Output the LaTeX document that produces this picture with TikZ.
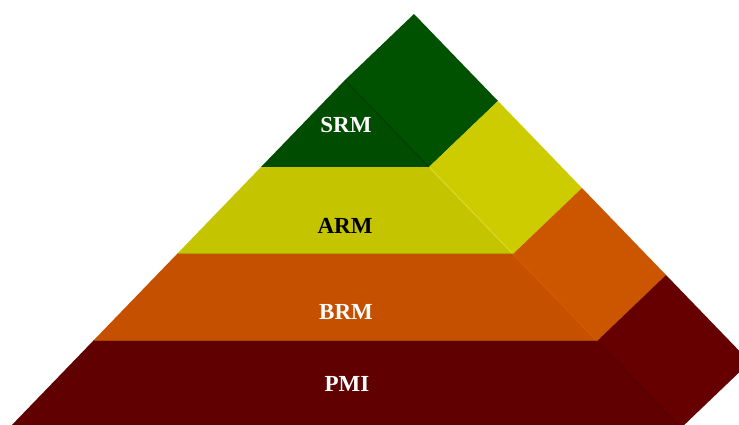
\documentclass[tikz,border=0pt]{standalone}
\usepackage{fontspec}
\setmainfont{Liberation Serif}
\usepackage{tikz}
\usepackage{xcolor}

\definecolor{srmfront}{HTML}{004C00}
\definecolor{srmside}{HTML}{005200}
\definecolor{armfront}{HTML}{C4C400}
\definecolor{armside}{HTML}{CCCC00}
\definecolor{brmfront}{HTML}{C45000}
\definecolor{brmside}{HTML}{CC5500}
\definecolor{pmifront}{HTML}{600000}
\definecolor{pmiside}{HTML}{660000}

\begin{document}
\begin{tikzpicture}[x=1pt,y=-1pt,
  lab/.style={font=\fontsize{23}{27}\selectfont\bfseries, inner sep=0pt}]
\clip (0,0) rectangle (739,424);

% Seitenflaeche
\fill[srmside] (345,80) -- (429,167) -- (498,101) -- (414,14) -- cycle;
\fill[armside] (429,167) -- (513,254) -- (582,188) -- (498,101) -- cycle;
\fill[brmside] (513,254) -- (597,341) -- (666,275) -- (582,188) -- cycle;
\fill[pmiside] (597,341) -- (681,428) -- (750,362) -- (666,275) -- cycle;

% Vorderseite
\fill[srmfront] (345,80) -- (261,167) -- (429,167) -- cycle;
\fill[armfront] (261,167) -- (177,254) -- (513,254) -- (429,167) -- cycle;
\fill[brmfront] (177,254) -- (93,341) -- (597,341) -- (513,254) -- cycle;
\fill[pmifront] (93,341) -- (9,428) -- (681,428) -- (597,341) -- cycle;

% Kanten
\draw[srmfront!80!black, line width=1pt] (345,80) -- (429,167);
\draw[armside!80!white!90!yellow, line width=1pt] (429,167) -- (513,254);
\draw[brmside!85!orange, line width=1pt] (513,254) -- (597,341);
\draw[pmifront!90!black, line width=1pt] (597,341) -- (681,428);
\draw[armfront!85!black, line width=1pt] (177,253) -- (513,253);
\draw[brmfront!85!black, line width=1pt] (93,340) -- (597,340);

% Beschriftung
\node[lab, white] (srm) at (346,125) {SRM};
\node[lab, black] (arm) at (345,226) {ARM};
\node[lab, white] (brm) at (346,312) {BRM};
\node[lab, white] (pmi) at (347,384) {PMI};
\end{tikzpicture}
\end{document}
